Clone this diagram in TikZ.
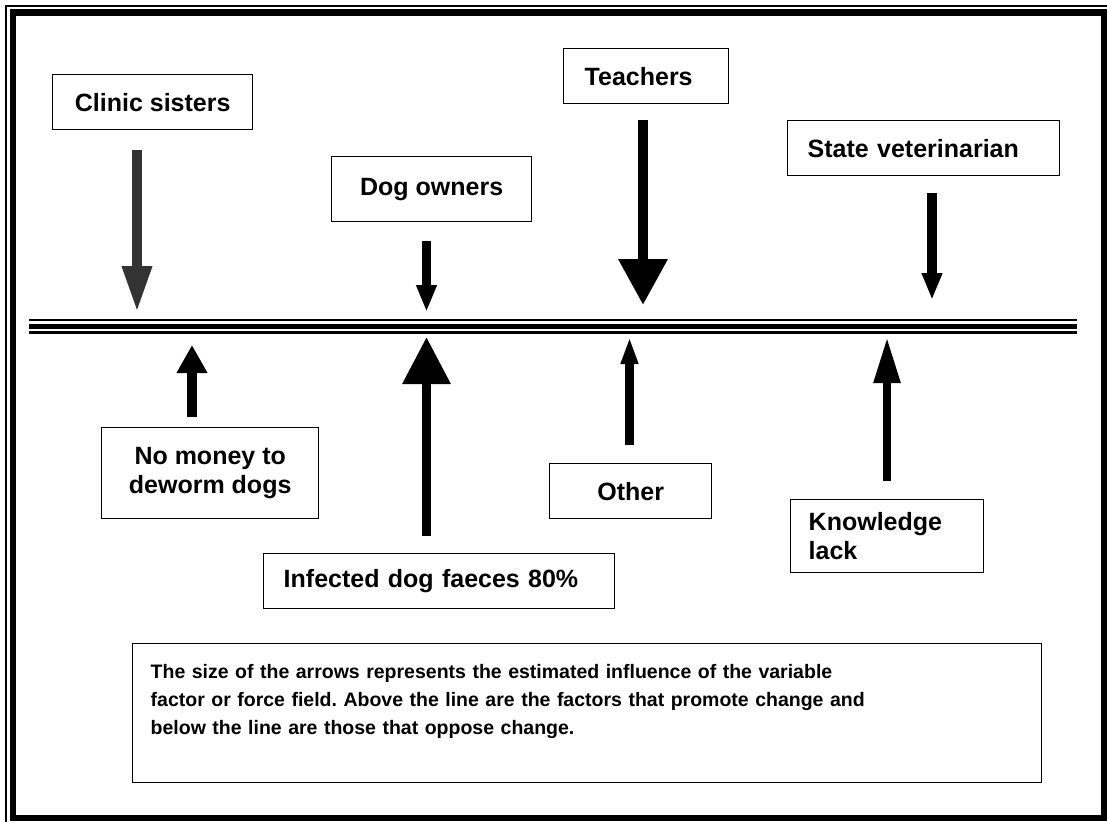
\documentclass[tikz,border=0pt]{standalone}
\usepackage{fontspec}
\setmainfont{Liberation Sans}
\usetikzlibrary{arrows.meta, positioning}
\definecolor{clinicgray}{RGB}{51,51,51}
\frenchspacing

\tikzset{
  box/.style={draw, line width=1.4pt, inner sep=0pt, anchor=north west,
    font=\fontsize{25}{28.5}\selectfont\bfseries, align=center},
  leftbox/.style={box, align=left, inner xsep=20pt},
  force/.style n args={3}{line width=#1pt, -{Triangle[width=#2pt, length=#3pt]}},
  field/.style={line width=#1pt},
}

\begin{document}
\begin{tikzpicture}[x=1pt, y=-1pt]
    \useasboundingbox (0,0) rectangle (1107,821);
    \clip (0,0) rectangle (1107,821);

    % page frame: thin outer line, thick inner line
    \draw[line width=1.2pt] (6,6) rectangle (1112,830);
    \draw[line width=6.5pt] (12.75,12.75) rectangle (1103.75,818);

    % the field line (thin, thick, thin)
    \coordinate (fieldL) at (29,326.5);
    \coordinate (fieldR) at (1077,326.5);
    \draw[field=2] ([yshift=6.5pt]fieldL) -- ([yshift=6.5pt]fieldR);
    \draw[field=5] (fieldL) -- (fieldR);
    \draw[field=2.3] ([yshift=-6pt]fieldL) -- ([yshift=-6pt]fieldR);

    % forces above the line
    \node[box, minimum width=200pt, minimum height=55pt] (clinic) at (52,74) {Clinic sisters};
    \node[box, minimum width=200pt, minimum height=65pt] (owners) at (331,156) {Dog owners};
    \node[leftbox, text width=123pt, inner xsep=21pt, minimum height=55pt] (teachers) at (563,48) {Teachers};
    \node[leftbox, text width=232pt, minimum height=55pt] (vet) at (787,120) {State veterinarian};

    % forces below the line
    \node[box, minimum width=217pt, minimum height=91pt] (money) at (101,427) {No money to\\deworm dogs};
    \node[leftbox, text width=311pt, minimum height=55pt] (faeces) at (263,553) {Infected dog faeces 80\%};
    \node[box, minimum width=162pt, minimum height=55pt] (other) at (549,463) {Other};
    \node[leftbox, text width=157pt, inner xsep=18pt, minimum height=73pt] (knowledge) at (790,499) {Knowledge\\lack};

    % arrows pushing down
    \coordinate (clinicTail) at (137,150);
    \coordinate (clinicTip) at (137,312);
    \draw[force={9.5}{28}{46}, clinicgray] (clinicTail) -- (clinicTip);
    \coordinate (ownersTail) at (426.5,241);
    \coordinate (ownersTip) at (426.5,312);
    \draw[force={9}{19}{27}] (ownersTail) -- (ownersTip);
    \coordinate (teachersTail) at (643,120);
    \coordinate (teachersTip) at (643,305);
    \draw[force={10}{47}{46}] (teachersTail) -- (teachersTip);
    \coordinate (vetTail) at (932,193);
    \coordinate (vetTip) at (932,300);
    \draw[force={9.5}{19}{27}] (vetTail) -- (vetTip);

    % arrows pushing up
    \coordinate (moneyTail) at (192,417);
    \coordinate (moneyTip) at (192,345);
    \draw[force={10}{29}{28}] (moneyTail) -- (moneyTip);
    \coordinate (faecesTail) at (426.5,536);
    \coordinate (faecesTip) at (426.5,337);
    \draw[force={9.5}{46}{47}] (faecesTail) -- (faecesTip);
    \coordinate (otherTail) at (629.5,445);
    \coordinate (otherTip) at (629.5,337);
    \draw[force={9}{16}{27}] (otherTail) -- (otherTip);
    \coordinate (knowledgeTail) at (887,481);
    \coordinate (knowledgeTip) at (887,337);
    \draw[force={8.5}{25}{46}] (knowledgeTail) -- (knowledgeTip);

    % explanation
    \node[box, font=\fontsize{19.5}{28}\selectfont\bfseries, align=left, text width=873pt,
      inner xsep=18pt, minimum height=139pt] (note) at (132,643)
      {The size of the arrows represents the estimated influence of the variable\\
       factor or force field. Above the line are the factors that promote change and\\
       below the line are those that oppose change.\\ \mbox{}};
\end{tikzpicture}
\end{document}
